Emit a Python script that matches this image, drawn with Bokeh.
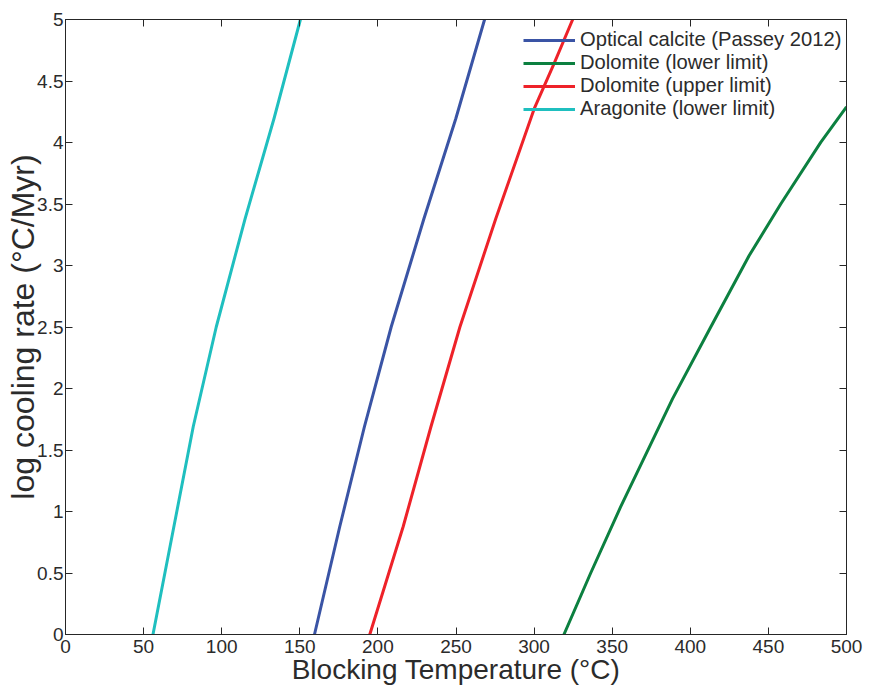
from bokeh.plotting import figure
from bokeh.models import FixedTicker, LinearAxis, Legend, LegendItem, Range1d
from bokeh.embed import file_html
from bokeh.resources import INLINE

# ---- data ----
calcite_T = [159.4, 175.6, 191.4, 208.5, 229.5, 249.9, 268.3]
calcite_r = [0.0, 0.878, 1.691, 2.50, 3.382, 4.195, 5.0]

dol_low_T = [319.1, 336.1, 355.3, 388.6, 413.1, 437.7, 457.9, 483.6, 500.0]
dol_low_r = [0.0, 0.496, 1.035, 1.916, 2.50, 3.081, 3.50, 4.003, 4.29]

dol_up_T = [194.8, 216.2, 234.0, 252.5, 275.5, 300.3, 312.7, 324.7]
dol_up_r = [0.0, 0.878, 1.691, 2.50, 3.382, 4.282, 4.64, 5.0]

arag_T = [56.0, 69.4, 81.8, 96.5, 115.0, 133.5, 150.4]
arag_r = [0.0, 0.878, 1.691, 2.50, 3.382, 4.195, 5.0]

series_names = ["Optical calcite (Passey 2012)", "Dolomite (lower limit)",
                "Dolomite (upper limit)", "Aragonite (lower limit)"]
series_colors = ["#3a54a5", "#0c8040", "#ee2229", "#1fbfbf"]

x_ticks = [0, 50, 100, 150, 200, 250, 300, 350, 400, 450, 500]
y_ticks = [0, 0.5, 1, 1.5, 2, 2.5, 3, 3.5, 4, 4.5, 5]
y_tick_labels = ["0", "0.5", "1", "1.5", "2", "2.5", "3", "3.5", "4", "4.5", "5"]

FONT = "Liberation Sans"
TXT = "#2b2b2b"

p = figure(width=869, height=687, output_backend="svg", toolbar_location=None,
           x_range=Range1d(0, 500), y_range=Range1d(0, 5),
           x_axis_location=None, y_axis_location=None,
           min_border_left=65, min_border_right=23, min_border_top=19,
           min_border_bottom=53)
p.background_fill_color = "white"
p.border_fill_color = "white"
p.outline_line_color = "#262626"
p.outline_line_width = 1
p.xgrid.visible = False
p.ygrid.visible = False

def style_axis(ax, show_labels=True):
    ax.axis_line_color = "#262626"
    ax.major_tick_line_color = "#262626"
    ax.major_tick_in = 7
    ax.major_tick_out = 0
    ax.minor_tick_line_color = None
    ax.major_label_text_font = FONT
    ax.major_label_text_color = TXT
    if show_labels:
        ax.major_label_text_font_size = "19px"
    else:
        ax.major_label_text_font_size = "1px"
        ax.major_label_standoff = 0

xb = LinearAxis(ticker=FixedTicker(ticks=x_ticks))
style_axis(xb)
xb.major_label_standoff = 5
xb.axis_label = "Blocking Temperature (°C)"
xb.axis_label_text_font = FONT
xb.axis_label_text_font_size = "28px"
xb.axis_label_text_font_style = "normal"
xb.axis_label_text_color = TXT
xb.axis_label_standoff = -2
p.add_layout(xb, "below")

yl = LinearAxis(ticker=FixedTicker(ticks=y_ticks))
style_axis(yl)
yl.major_label_overrides = {t: s for t, s in zip(y_ticks, y_tick_labels)}
yl.major_label_standoff = 2
yl.axis_label = "log cooling rate (°C/Myr)"
yl.axis_label_text_font = FONT
yl.axis_label_text_font_size = "32px"
yl.axis_label_text_font_style = "normal"
yl.axis_label_text_color = TXT
yl.axis_label_standoff = -7
p.add_layout(yl, "left")

xt = LinearAxis(ticker=FixedTicker(ticks=x_ticks))
style_axis(xt, show_labels=False)
xt.major_label_overrides = {t: "" for t in x_ticks}
p.add_layout(xt, "above")

yr = LinearAxis(ticker=FixedTicker(ticks=y_ticks))
style_axis(yr, show_labels=False)
yr.major_label_overrides = {t: "" for t in y_ticks}
p.add_layout(yr, "right")

renderers = []
for T, r, c in zip([calcite_T, dol_low_T, dol_up_T, arag_T],
                   [calcite_r, dol_low_r, dol_up_r, arag_r], series_colors):
    renderers.append(p.line(T, r, line_color=c, line_width=3, line_join="round"))

legend = Legend(items=[LegendItem(label=n, renderers=[rr]) for n, rr in zip(series_names, renderers)],
                location=(458, 514))
legend.background_fill_alpha = 0
legend.border_line_alpha = 0
legend.padding = 0
legend.margin = 0
legend.spacing = 0
legend.glyph_width = 52
legend.glyph_height = 22
legend.label_height = 22
legend.label_standoff = 5
legend.label_text_font = FONT
legend.label_text_font_size = "20.2px"
legend.label_text_color = TXT
p.add_layout(legend, "center")

open("out.html", "w").write(file_html(p, INLINE))
